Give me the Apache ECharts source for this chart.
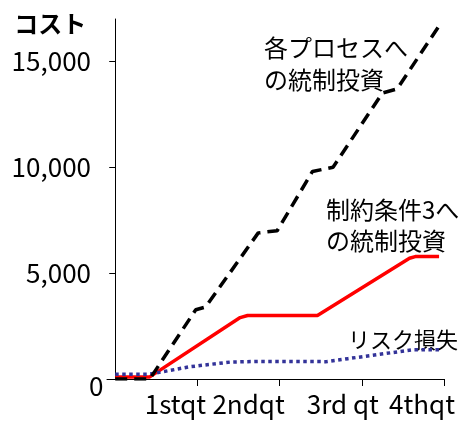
<!DOCTYPE html>
<html><head><meta charset="utf-8">
<script src="https://cdn.jsdelivr.net/npm/echarts@6/dist/echarts.min.js"></script>
<style>html,body{margin:0;padding:0;background:#fff}#c{width:467px;height:421px}</style>
</head><body><div id="c"></div>
<script>
const quarterLabels = ['1stqt', '2ndqt', '3rd qt', '4thqt'];
const quarterTicks = [1, 2, 3, 4];
const yTickValues = [5000, 10000, 15000];
const seriesNames = ['各プロセスへ\nの統制投資', '制約条件3へ\nの統制投資', 'リスク損失'];
const processX = [0, 0.42, 0.98, 1.10, 1.74, 1.97, 2.40, 2.65, 3.25, 3.43, 3.97];
const processY = [0, 0, 3270, 3400, 6900, 7000, 9800, 10000, 13500, 13700, 16850];
const constraintX = [0, 0.42, 1.52, 1.61, 2.46, 3.58, 3.65, 3.94];
const constraintY = [100, 100, 2900, 3000, 3000, 5700, 5780, 5780];
const riskX = [0, 0.42, 0.91, 1.40, 1.76, 2.57, 2.83, 3.62, 3.94];
const riskY = [230, 230, 580, 800, 830, 820, 960, 1380, 1380];

const FONT = '"Noto Sans CJK JP", "Noto Sans", sans-serif';
const pairs = (xs, ys) => xs.map((x, i) => [x, ys[i]]);
const labelPad = {q1: 44, q2: 62, q3: 38, q4: 44};

const chart = echarts.init(document.getElementById('c'));
chart.setOption({
  animation: false,
  grid: {left: 107, right: 23, top: 19, bottom: 42, containLabel: false},
  xAxis: {
    type: 'value', min: -0.1, max: 4,
    axisLine: {show: true, lineStyle: {color: '#000', width: 1}},
    axisTick: {show: true, length: 7, lineStyle: {color: '#000'}, customValues: quarterTicks},
    splitLine: {show: false},
    axisLabel: {
      customValues: quarterTicks,
      margin: 12,
      fontFamily: FONT, fontSize: 26, color: '#000',
      formatter: v => {
        const i = Math.round(v) - 1;
        return '{q' + (i + 1) + '|' + quarterLabels[i] + '}';
      },
      rich: {
        q1: {padding: [0, labelPad.q1, 0, 0], fontFamily: FONT, fontSize: 26, color: '#000'},
        q2: {padding: [0, labelPad.q2, 0, 0], fontFamily: FONT, fontSize: 26, color: '#000'},
        q3: {padding: [0, labelPad.q3, 0, 0], fontFamily: FONT, fontSize: 26, color: '#000'},
        q4: {padding: [0, labelPad.q4, 0, 0], fontFamily: FONT, fontSize: 26, color: '#000'}
      }
    }
  },
  yAxis: {
    type: 'value', min: 0, max: 17000,
    name: 'コスト', nameLocation: 'end', nameGap: 7,
    nameTextStyle: {fontFamily: FONT, fontSize: 24, fontWeight: 'bold', color: '#000', align: 'right', verticalAlign: 'top', padding: [0, 29, 0, 0]},
    axisLine: {show: true, lineStyle: {color: '#000', width: 1}},
    axisTick: {show: true, length: 6, lineStyle: {color: '#000'}, customValues: yTickValues},
    splitLine: {show: false},
    axisLabel: {
      customValues: yTickValues,
      margin: 16, fontFamily: FONT, fontSize: 26, color: '#000',
      formatter: v => v.toLocaleString('en-US')
    }
  },
  graphic: [
    {type: 'text', left: 89, top: 373, style: {text: '0', font: '26px ' + FONT, fill: '#000'}},
    {type: 'text', left: 264, top: 32, style: {text: seriesNames[0], font: '24px ' + FONT, fill: '#000', lineHeight: 32}},
    {type: 'text', left: 326, top: 194, style: {text: seriesNames[1], font: '24px ' + FONT, fill: '#000', lineHeight: 31}},
    {type: 'text', left: 348, top: 329, style: {text: seriesNames[2], font: '22px ' + FONT, fill: '#000'}}
  ],
  series: [
    {name: seriesNames[1], type: 'line', data: pairs(constraintX, constraintY), symbol: 'none',
      lineStyle: {color: '#ff0000', width: 3.5}, z: 2},
    {name: seriesNames[2], type: 'line', data: pairs(riskX, riskY), symbol: 'none',
      lineStyle: {color: '#333399', width: 3.5, type: [3.5, 3.5], cap: 'butt'}, z: 3},
    {name: seriesNames[0], type: 'line', data: pairs(processX, processY), symbol: 'none',
      lineStyle: {color: '#000', width: 3.5, type: [12, 7], cap: 'butt'}, z: 4}
  ]
});
</script></body></html>
